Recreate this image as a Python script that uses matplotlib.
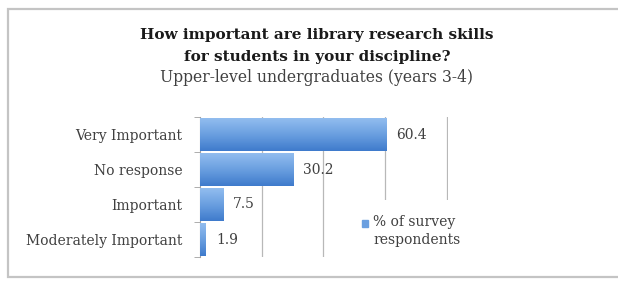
import matplotlib.pyplot as plt
from matplotlib.patches import Rectangle
from matplotlib.legend_handler import HandlerPatch
from matplotlib.colors import LinearSegmentedColormap
import numpy as np

# data
categories = ['Very Important', 'No response', 'Important', 'Moderately Important']
values = [60.4, 30.2, 7.5, 1.9]
series_name = '% of survey\nrespondents'
title = 'How important are library research skills\nfor students in your discipline?'
subtitle = 'Upper-level undergraduates (years 3-4)'

font = 'DejaVu Serif'
text_color = '#404040'

fig = plt.figure(figsize=(6.18, 2.83), dpi=100)
fig.patch.set_facecolor('white')

# chart frame
frame = Rectangle((8 / 618, 6 / 283), 1.2, 268 / 283, transform=fig.transFigure,
                  facecolor='white', edgecolor='#c4c4c4', lw=1.6, zorder=-1)
fig.patches.append(frame)

ax = fig.add_axes([200 / 618, 1 - 257 / 283, 248 / 618, 140 / 283])
y = np.arange(len(categories))
bars = ax.barh(y, values, height=0.92, color='#5b95dc', zorder=2)

# vertical gradient in each bar
grad = np.linspace(0, 1, 64).reshape(-1, 1)
cmap = LinearSegmentedColormap.from_list('bar', ['#92bdef', '#6a9fe0', '#3f7bcc'])
for b in bars:
    x0, y0 = b.get_x(), b.get_y()
    w, h = b.get_width(), b.get_height()
    im = ax.imshow(grad, cmap=cmap, aspect='auto', zorder=3,
                   extent=(x0, x0 + w, y0 + h, y0), origin='upper')
    im.set_clip_path(b)

for v, yy in zip(values, y):
    ax.annotate(f'{v:.1f}', (v, yy), xytext=(10, 0), textcoords='offset pixels',
                ha='left', va='center', fontsize=10, family=font, color=text_color)

ax.set_xlim(0, 80.4)
ax.set_ylim(len(categories) - 0.5, -0.5)
ax.set_xticks([20, 40, 60, 80])
ax.xaxis.grid(True, color='#b8b8b8', lw=0.9, zorder=0)
ax.set_axisbelow(True)
ax.tick_params(axis='x', length=0, labelbottom=False)
ax.set_yticks(y)
ax.set_yticklabels(categories, family=font, fontsize=10, color=text_color)
ax.tick_params(axis='y', which='major', length=0, pad=12.5)
ax.set_yticks(np.arange(-0.5, len(categories)), minor=True)
ax.tick_params(axis='y', which='minor', length=4, color='#a0a0a0', direction='out')
for s in ['top', 'right', 'bottom']:
    ax.spines[s].set_visible(False)
ax.spines['left'].set_color('#a0a0a0')


def top_square(legend, orig_handle, xdescent, ydescent, width, height, fontsize):
    # square marker next to the first line of the label
    return Rectangle((-xdescent, -ydescent + 0.6 * fontsize), width, height)


leg = ax.legend([bars[0]], [series_name], loc='upper left',
                bbox_to_anchor=(340 / 618, 1 - 193 / 283), bbox_transform=fig.transFigure,
                prop={'family': font, 'size': 10}, frameon=True, facecolor='white',
                edgecolor='none', framealpha=1, fancybox=False, handlelength=0.45,
                handleheight=0.45, handletextpad=0.35, borderpad=1.1, labelspacing=0,
                handler_map={Rectangle: HandlerPatch(patch_func=top_square)})
for t in leg.get_texts():
    t.set_color(text_color)
    t.set_linespacing(1.35)
leg.legend_handles[0].set_color('#6a9fe0')

fig.text(317 / 618, 1 - 46 / 283, title, ha='center', va='center', family=font,
         fontsize=11, fontweight='bold', color='#1a1a1a', linespacing=1.75)
fig.text(317 / 618, 1 - 78 / 283, subtitle, ha='center', va='center', family=font,
         fontsize=11.25, color=text_color)

fig.savefig('out.png', dpi=100)
